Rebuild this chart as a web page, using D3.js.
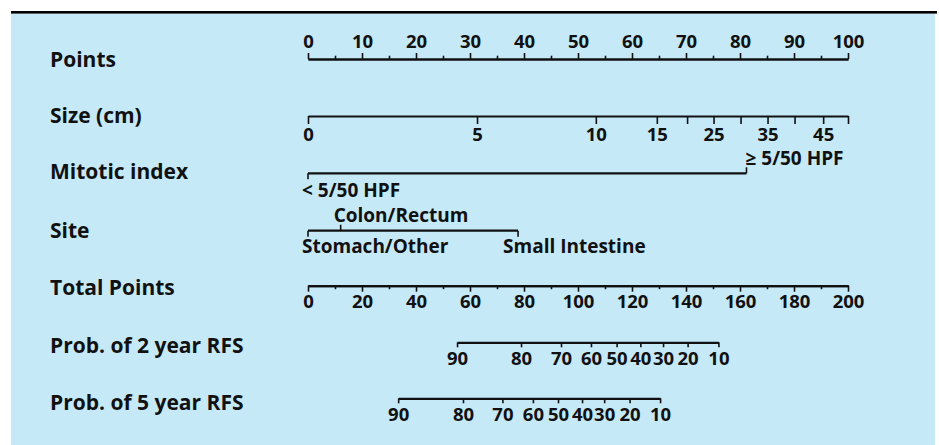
<!DOCTYPE html>
<html><head><meta charset="utf-8">
<script src="https://cdn.jsdelivr.net/npm/d3@7"></script>
<style>
html,body{margin:0;padding:0;background:#fff;}
svg{display:block;}
text{font-family:"Open Sans",sans-serif;font-weight:700;fill:#111;}
</style></head><body>
<svg id="c" width="939" height="445"></svg>
<script>
// ---- data ----
const rowTitles = ["Points","Size (cm)","Mitotic index","Site","Total Points","Prob. of 2 year RFS","Prob. of 5 year RFS"];
const pointsMajor = [0,10,20,30,40,50,60,70,80,90,100];
const pointsMinor = [5,15,25,35,45,55,65,75,85,95];
const sizeValues = [0,5,10,15,20,25,30,35,40,45,50];
const sizePoints = [0,31.3,53.3,64.6,70.2,75.1,80.1,85.1,90.1,95.4,100];
const sizeLabeled = [0,5,10,15,25,35,45];
const mitoticCats = ["< 5/50 HPF","\u2265 5/50 HPF"];
const mitoticPoints = [0,81.2];
const siteCats = ["Stomach/Other","Colon/Rectum","Small Intestine"];
const sitePoints = [0,6.05,38.9];
const totalMajor = [0,20,40,60,80,100,120,140,160,180,200];
const totalMinor = [10,30,50,70,90,110,130,150,170,190];
const rfsProbs = [90,80,70,60,50,40,30,20,10];
const rfs2Total = [55.2,78.9,93.7,104.8,114.3,123.1,131.5,140.6,152.0];
const rfs5Total = [33.4,57.4,72.0,83.3,92.6,101.5,109.7,119.1,130.4];

// ---- layout ----
const svg = d3.select("#c");
svg.append("rect").attr("x",11).attr("y",13.5).attr("width",924).attr("height",432).attr("fill","#c6e9f8");
svg.append("rect").attr("x",11).attr("y",11).attr("width",926).attr("height",2.6).attr("fill","#000");

const x0 = 308, x1 = 848;
const pts = d3.scaleLinear().domain([0,100]).range([x0,x1]);
const tot = d3.scaleLinear().domain([0,200]).range([x0,x1]);

const titleY = [66.7,123.3,179.3,238.3,295,353.3,410];
svg.selectAll("text.title").data(rowTitles).join("text")
  .attr("class","title").attr("x",50).attr("y",(d,i)=>titleY[i])
  .style("font-size","21px").text(d=>d);

function styleAxis(g, fs){
  g.select(".domain").attr("stroke","#111").attr("stroke-width",2.2);
  g.selectAll(".tick line").attr("stroke","#111").attr("stroke-width",1.6);
  g.selectAll(".tick text").attr("fill","#111").style("font-family","'Open Sans',sans-serif")
   .style("font-weight","700").style("font-size",(fs||18.5)+"px");
}

// Points axis (ticks up)
let g = svg.append("g").attr("transform","translate(0,59)");
g.call(d3.axisTop(pts).tickValues(pointsMinor).tickSize(3.3).tickSizeOuter(0).tickFormat(""));
styleAxis(g);
g = svg.append("g").attr("transform","translate(0,59)");
g.call(d3.axisTop(pts).tickValues(pointsMajor).tickSize(6).tickSizeOuter(0).tickPadding(5));
styleAxis(g);

// Size axis (piecewise)
const sizeScale = d3.scaleLinear().domain(sizeValues).range(sizePoints.map(pts));
g = svg.append("g").attr("transform","translate(0,116)");
g.call(d3.axisBottom(sizeScale).tickValues(sizeValues).tickSize(8).tickSizeOuter(0).tickPadding(4)
  .tickFormat(d => sizeLabeled.includes(d) ? d : ""));
styleAxis(g);

// Categorical axis helper
function catAxis(y, cats, vals, dirs, labelDy, labelDx){
  const gg = svg.append("g");
  const xs = vals.map(pts);
  gg.append("line").attr("x1",d3.min(xs)).attr("x2",d3.max(xs)).attr("y1",y).attr("y2",y)
    .attr("stroke","#111").attr("stroke-width",2.2);
  gg.selectAll("line.t").data(vals).join("line").attr("class","t")
    .attr("x1",d=>pts(d)).attr("x2",d=>pts(d)).attr("y1",y).attr("y2",(d,i)=>y+dirs[i]*6)
    .attr("stroke","#111").attr("stroke-width",1.6);
  gg.selectAll("text").data(cats).join("text")
    .attr("x",(d,i)=>xs[i]+labelDx[i]).attr("y",(d,i)=>y+labelDy[i])
    .style("font-size","19px").text(d=>d);
}
catAxis(173.3, mitoticCats, mitoticPoints, [1,-1], [23.4,-8.3], [-6,-1]);
catAxis(230.7, siteCats, sitePoints, [1,-1,1], [22.3,-9,22.3], [-6,-7,-15]);

// Total points axis (ticks down)
g = svg.append("g").attr("transform","translate(0,285.7)");
g.call(d3.axisBottom(tot).tickValues(totalMinor).tickSize(3.5).tickSizeOuter(0).tickFormat(""));
styleAxis(g);
g = svg.append("g").attr("transform","translate(0,285.7)");
g.call(d3.axisBottom(tot).tickValues(totalMajor).tickSize(6).tickSizeOuter(0).tickPadding(3));
styleAxis(g);

// RFS axes
function rfsAxis(y, totals){
  const sc = d3.scaleLinear().domain(rfsProbs).range(totals.map(tot));
  const gg = svg.append("g").attr("transform","translate(0,"+y+")");
  gg.call(d3.axisBottom(sc).tickValues(rfsProbs).tickSize(5).tickSizeOuter(0).tickPadding(5));
  styleAxis(gg);
}
rfsAxis(342.3, rfs2Total);
rfsAxis(398.3, rfs5Total);
</script>
</body></html>
